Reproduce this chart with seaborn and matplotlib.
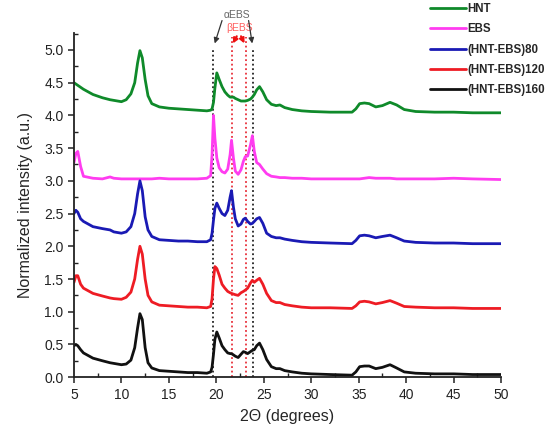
import pandas as pd
import matplotlib
matplotlib.use("Agg")
import matplotlib.pyplot as plt
import seaborn as sns

# common 2-theta grid (degrees)
two_theta = [5, 5.2, 5.4, 5.7, 6, 7, 8, 8.8, 9.2, 10,
             10.5, 11, 11.4, 11.7, 11.95, 12.2, 12.5, 12.8, 13.2, 14,
             15, 16, 17, 18, 19, 19.4, 19.55, 19.7, 19.85, 20.05,
             20.3, 20.6, 20.9, 21.2, 21.45, 21.6, 21.8, 22.0, 22.3, 22.6,
             22.85, 23.05, 23.3, 23.6, 23.8, 24.0, 24.25, 24.55, 24.9, 25.3,
             25.8, 26.3, 26.7, 27.2, 28, 29, 30, 32, 34.3, 34.7,
             35.1, 35.6, 36.1, 36.8, 37.5, 38.3, 39, 39.8, 41, 43,
             45, 47, 50]

hnt = [4.50, 4.48, 4.46, 4.43, 4.40, 4.32, 4.27, 4.24, 4.23, 4.21,
       4.24, 4.33, 4.50, 4.80, 4.99, 4.88, 4.55, 4.30, 4.18, 4.13,
       4.11, 4.10, 4.09, 4.08, 4.07, 4.08, 4.10, 4.20, 4.42, 4.65,
       4.55, 4.44, 4.36, 4.31, 4.28, 4.28, 4.28, 4.26, 4.24, 4.22,
       4.22, 4.22, 4.23, 4.25, 4.28, 4.32, 4.39, 4.44, 4.36, 4.24,
       4.17, 4.15, 4.16, 4.12, 4.09, 4.07, 4.06, 4.05, 4.05, 4.10,
       4.18, 4.19, 4.18, 4.13, 4.15, 4.20, 4.16, 4.09, 4.06, 4.05,
       4.05, 4.04, 4.04]

ebs = [3.28, 3.42, 3.45, 3.22, 3.07, 3.04, 3.03, 3.06, 3.04, 3.03,
       3.03, 3.03, 3.03, 3.03, 3.03, 3.03, 3.03, 3.03, 3.03, 3.04,
       3.03, 3.03, 3.03, 3.03, 3.04, 3.08, 3.40, 4.00, 3.65, 3.35,
       3.20, 3.14, 3.12, 3.18, 3.40, 3.62, 3.35, 3.15, 3.10, 3.17,
       3.30, 3.37, 3.38, 3.55, 3.69, 3.45, 3.28, 3.25, 3.18, 3.11,
       3.07, 3.06, 3.05, 3.05, 3.04, 3.04, 3.03, 3.03, 3.03, 3.03,
       3.03, 3.04, 3.05, 3.04, 3.04, 3.04, 3.03, 3.03, 3.03, 3.03,
       3.04, 3.03, 3.02]

hnt_ebs80 = [2.50, 2.55, 2.52, 2.42, 2.38, 2.30, 2.27, 2.25, 2.22, 2.20,
             2.22, 2.30, 2.50, 2.80, 3.00, 2.85, 2.45, 2.25, 2.15, 2.10,
             2.09, 2.08, 2.08, 2.07, 2.07, 2.10, 2.20, 2.40, 2.58, 2.66,
             2.58, 2.50, 2.47, 2.55, 2.75, 2.85, 2.60, 2.42, 2.31, 2.34,
             2.41, 2.43, 2.38, 2.34, 2.35, 2.38, 2.42, 2.44, 2.35, 2.20,
             2.15, 2.13, 2.13, 2.11, 2.09, 2.07, 2.06, 2.05, 2.04, 2.09,
             2.16, 2.17, 2.16, 2.13, 2.15, 2.17, 2.13, 2.08, 2.06, 2.05,
             2.05, 2.04, 2.04]

hnt_ebs120 = [1.45, 1.55, 1.55, 1.42, 1.36, 1.28, 1.24, 1.21, 1.20, 1.19,
              1.22, 1.30, 1.50, 1.80, 2.00, 1.88, 1.50, 1.25, 1.15, 1.10,
              1.09, 1.08, 1.07, 1.07, 1.06, 1.08, 1.20, 1.50, 1.69, 1.66,
              1.56, 1.42, 1.36, 1.31, 1.29, 1.28, 1.27, 1.26, 1.25, 1.29,
              1.31, 1.33, 1.36, 1.44, 1.48, 1.45, 1.48, 1.51, 1.42, 1.28,
              1.17, 1.14, 1.14, 1.11, 1.09, 1.07, 1.06, 1.06, 1.05, 1.09,
              1.15, 1.16, 1.15, 1.12, 1.14, 1.17, 1.13, 1.08, 1.07, 1.06,
              1.06, 1.05, 1.05]

hnt_ebs160 = [0.48, 0.50, 0.48, 0.42, 0.37, 0.29, 0.25, 0.22, 0.21, 0.19,
              0.20, 0.26, 0.45, 0.75, 0.97, 0.88, 0.45, 0.22, 0.14, 0.10,
              0.09, 0.08, 0.07, 0.07, 0.06, 0.08, 0.15, 0.35, 0.58, 0.69,
              0.60, 0.48, 0.42, 0.37, 0.36, 0.36, 0.34, 0.32, 0.30, 0.35,
              0.39, 0.38, 0.36, 0.39, 0.41, 0.42, 0.48, 0.52, 0.42, 0.27,
              0.16, 0.13, 0.13, 0.10, 0.08, 0.06, 0.05, 0.04, 0.03, 0.08,
              0.16, 0.17, 0.17, 0.13, 0.15, 0.19, 0.14, 0.08, 0.06, 0.05,
              0.05, 0.04, 0.04]

samples = ["HNT", "EBS", "(HNT-EBS)80", "(HNT-EBS)120", "(HNT-EBS)160"]
colors = ["#0f8a2a", "#ff3cf0", "#1a1ab4", "#ee1c24", "#111111"]

# reflection positions marked by dotted guides
alpha_peaks = [19.68, 23.83]
beta_peaks = [21.62, 23.08]

df = pd.concat([
    pd.DataFrame({"two_theta": two_theta, "intensity": y, "sample": s})
    for s, y in zip(samples, [hnt, ebs, hnt_ebs80, hnt_ebs120, hnt_ebs160])
])

sns.set_style("ticks")
plt.rcParams["font.family"] = ["Liberation Sans", "DejaVu Sans"]

fig = plt.figure(figsize=(5.5, 4.34), dpi=100)
ax = fig.add_axes([0.1345, 0.131, 0.7765, 0.793])

ax.vlines(alpha_peaks, 0, 5.03, colors="#222222", linestyles=(0, (1, 1.5)),
          lw=1.3, zorder=1)
ax.vlines(beta_peaks, 0, 5.2, colors="#e8303a", linestyles=(0, (1, 1.5)),
          lw=1.3, zorder=1)

sns.lineplot(data=df, x="two_theta", y="intensity", hue="sample",
             hue_order=samples, palette=colors, sort=False,
             lw=2.0, ax=ax, zorder=2)

ax.set_xlim(5, 50)
ax.set_ylim(0, 5.26)
ax.set_xticks(range(5, 51, 5))
ax.set_yticks([i * 0.5 for i in range(11)])
ax.set_yticklabels([f"{i * 0.5:.1f}" for i in range(11)])
ax.minorticks_on()
ax.xaxis.set_minor_locator(matplotlib.ticker.MultipleLocator(2.5))
ax.yaxis.set_minor_locator(matplotlib.ticker.MultipleLocator(0.25))
ax.tick_params(which="major", direction="out", length=4, width=1.1,
               labelsize=10, colors="#222222")
ax.tick_params(which="minor", direction="in", length=3, width=1.0,
               colors="#222222")
for side in ["left", "bottom"]:
    ax.spines[side].set_linewidth(1.3)
    ax.spines[side].set_color("#222222")
sns.despine(ax=ax)

ax.set_xlabel("2\u0398 (degrees)", fontsize=11.5, labelpad=5)
ax.set_ylabel("Normalized intensity (a.u.)", fontsize=11.5, labelpad=8)

# peak labels
ax.text(22.15, 5.54, "\u03b1EBS", color="#666666", fontsize=7.5,
        ha="center", va="center", clip_on=False)
ax.text(22.4, 5.34, "\u03b2EBS", color="#ff6060", fontsize=7.5,
        ha="center", va="center", clip_on=False)
arrow_black = dict(arrowstyle="-|>", color="#333333", lw=0.9,
                   mutation_scale=8, shrinkA=0, shrinkB=0)
ax.annotate("", xy=(alpha_peaks[0] + 0.15, 5.1), xytext=(20.6, 5.45),
            arrowprops=arrow_black, annotation_clip=False)
ax.annotate("", xy=(alpha_peaks[1] - 0.05, 5.1), xytext=(23.4, 5.45),
            arrowprops=arrow_black, annotation_clip=False)
arrow_red = dict(arrowstyle="-|>", color="#ee1111", lw=1.5,
                 mutation_scale=7, shrinkA=0, shrinkB=0)
ax.annotate("", xy=(beta_peaks[0] + 0.12, 5.1), xytext=(22.15, 5.21),
            arrowprops=arrow_red, annotation_clip=False)
ax.annotate("", xy=(beta_peaks[1] - 0.12, 5.1), xytext=(22.6, 5.21),
            arrowprops=arrow_red, annotation_clip=False)

handles, labels = ax.get_legend_handles_labels()
ax.legend_.remove()
fig.legend(handles=handles, labels=labels, loc="upper left",
           bbox_to_anchor=(430 / 550, 1 - 3 / 434), frameon=False,
           borderpad=0, borderaxespad=0,
           prop={"weight": "bold", "size": 8.3}, handlelength=3.1,
           handletextpad=0.15, labelspacing=0.72)

fig.savefig("out.png", dpi=100)
